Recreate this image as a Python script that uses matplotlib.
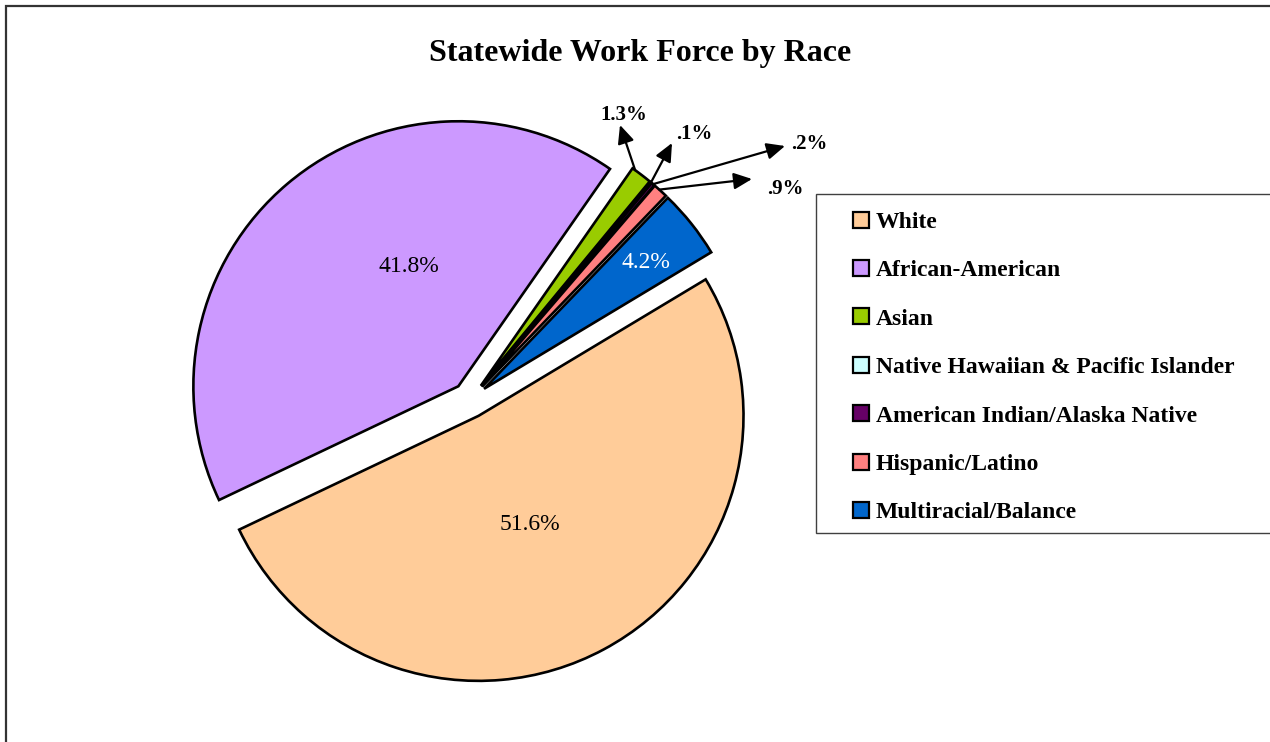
import matplotlib
matplotlib.use("Agg")
from matplotlib import pyplot as plt
from matplotlib.patches import Rectangle
import numpy as np

# canvas size in pixels
W, H = 1270, 742

# data
races = ["White", "African-American", "Asian",
         "Native Hawaiian & Pacific Islander",
         "American Indian/Alaska Native", "Hispanic/Latino",
         "Multiracial/Balance"]
shares = [51.6, 41.8, 1.3, 0.1, 0.2, 0.9, 4.2]
share_labels = ["51.6%", "41.8%", "1.3%", ".1%", ".2%", ".9%", "4.2%"]
colors = ["#FFCC99", "#CC99FF", "#99CC00", "#CCFFFF", "#660066",
          "#FF8080", "#0066CC"]

plt.rcParams['font.family'] = ['Liberation Serif', 'DejaVu Serif']

DY = 3  # text centre correction (pixels down)


def px(x, y):
    # pixel position (from top-left) -> data coords
    return (x, H - y)


fig = plt.figure(figsize=(W / 100, H / 100), dpi=100)
ax = fig.add_axes([0, 0, 1, 1])

center = px(470, 400)
R = 265
wedges, _ = ax.pie(shares, colors=colors, startangle=31, counterclock=False,
                   radius=R, center=center, explode=[18] * len(shares),
                   wedgeprops=dict(edgecolor='black', linewidth=1.9))
ax.set_xlim(0, W)
ax.set_ylim(0, H)
ax.set_aspect('equal')
ax.axis('off')

# labels inside big slices: (fraction of radius, angle override, colour)
inside = {0: (0.445, -64, 'black'), 1: (0.50, 112, 'black'), 6: (0.78, None, 'white')}
for i, (f, ang, c) in inside.items():
    w = wedges[i]
    a = ang if ang is not None else 0.5 * (w.theta1 + w.theta2)
    x = w.center[0] + f * w.r * np.cos(np.radians(a))
    y = w.center[1] + f * w.r * np.sin(np.radians(a)) - DY
    ax.text(x, y, share_labels[i], ha='center', va='center', fontsize=17, color=c)

# small slices: arrow from slice edge to label
tips = {2: (620, 125), 3: (672, 143), 4: (785, 146), 5: (752, 179)}
texts = {2: (624, 112), 3: (694, 131), 4: (809, 141), 5: (785, 186)}
tail_pos = {2: 0.85, 3: 0.5, 4: 0.5, 5: 0.6}
for i in tips:
    w = wedges[i]
    t = tail_pos[i]
    a = np.radians(w.theta1 + t * (w.theta2 - w.theta1))
    tail = (w.center[0] + w.r * np.cos(a), w.center[1] + w.r * np.sin(a))
    ax.annotate('', xy=px(*tips[i]), xytext=tail,
                arrowprops=dict(arrowstyle='-|>,head_length=0.55,head_width=0.25',
                                color='black', lw=1.6, mutation_scale=20,
                                shrinkA=0, shrinkB=0))
    tx, ty = texts[i]
    ax.text(*px(tx, ty + DY), share_labels[i], ha='center', va='center',
            fontsize=15, fontweight='bold')

ax.text(*px(640, 50 + DY), "Statewide Work Force by Race", ha='center',
        va='center', fontsize=23, fontweight='bold')

# legend
ax.add_patch(Rectangle(px(816, 533), 600, 533 - 194, facecolor='white',
                       edgecolor='#404040', lw=1))
for k, (name, col) in enumerate(zip(races, colors)):
    yy = 219.5 + k * 48.4
    ax.add_patch(Rectangle(px(853, yy + 8), 16, 16, facecolor=col,
                           edgecolor='black', lw=1.6))
    ax.text(*px(876, yy + DY), name, ha='left', va='center', fontsize=17,
            fontweight='bold')

# outer frame
ax.add_patch(Rectangle(px(5.5, H + 50), W + 100, H + 50 - 5.5, fill=False,
                       edgecolor='#333333', lw=1.6))

fig.savefig("out.png", dpi=100)
